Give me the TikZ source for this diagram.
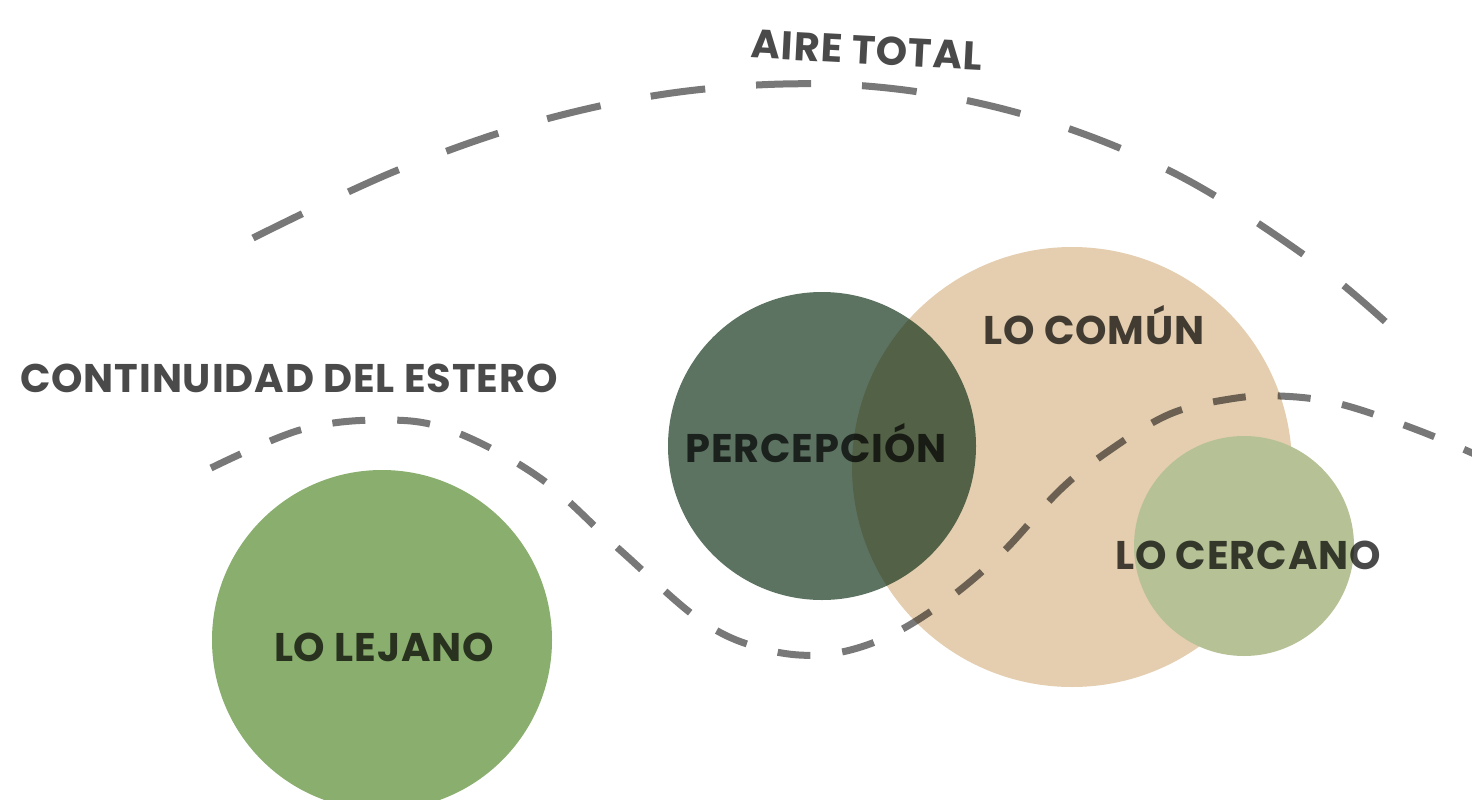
\documentclass[tikz,border=0pt]{standalone}
\usepackage{fontspec}
\setmainfont{Poppins}[LetterSpace=2.2]
\definecolor{lejanoC}{HTML}{8AAE6E}
\definecolor{comunC}{HTML}{E4CEAF}
\definecolor{cercanoC}{HTML}{B6C196}
\definecolor{percepC}{RGB}{6,40,14}
\begin{document}
\begin{tikzpicture}[x=1pt,y=-1pt,
  blob/.style={circle, inner sep=0pt, outer sep=0pt, draw=none},
  lbl/.style={font=\fontsize{40}{48}\selectfont\bfseries, text=black, text opacity=0.71, inner sep=0pt, anchor=base},
  arcline/.style={draw=black, draw opacity=0.53, line width=7pt, dash pattern=on 55pt off 51pt},
  riverline/.style={draw=black, draw opacity=0.53, line width=7pt, dash pattern=on 33pt off 32pt}]
\useasboundingbox (0,0) rectangle (1472,800);
\clip (0,0) rectangle (1472,800);
% circles
\node[blob, fill=lejanoC, minimum size=340pt] (lejano) at (382,640) {};
\node[blob, fill=comunC, minimum size=440pt] (comun) at (1072,467) {};
\node[blob, fill=percepC, fill opacity=0.65, minimum size=308pt] (percep) at (822,446) {};
\node[blob, fill=cercanoC, minimum size=220pt] (cercano) at (1244,546) {};
% dashed curves
\draw[arcline] plot[smooth, tension=0.6] coordinates {(253,238) (398,170) (550,118) (705,89) (866,86) (1022,114) (1172,172) (1307,257) (1390,326)};
\draw[riverline] plot[smooth, tension=0.6] coordinates {(211,468) (300,430) (380,420) (450,430) (540,478) (620,550) (700,620) (760,648) (820,655) (880,640) (940,605) (1000,555) (1060,490) (1110,450) (1170,414) (1230,399) (1280,396) (1340,404) (1420,431) (1490,461)};
% labels
\node[lbl, rotate=-3] (aire) at (866,64) {AIRE TOTAL};
\node[lbl] (cont) at (289,392) {CONTINUIDAD DEL ESTERO};
\node[lbl] (lcomun) at (1094,344) {LO COMÚN};
\node[lbl] (lpercep) at (816,462) {PERCEPCIÓN};
\node[lbl] (lcercano) at (1248,569) {LO CERCANO};
\node[lbl] (llejano) at (384,661) {LO LEJANO};
\end{tikzpicture}
\end{document}
